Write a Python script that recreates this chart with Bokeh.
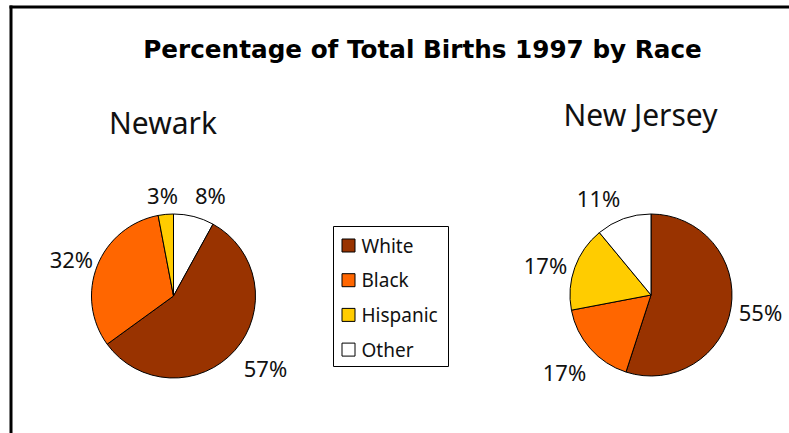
import math
from bokeh.plotting import figure
from bokeh.models import ColumnDataSource, BoxAnnotation, Range1d
from bokeh.core.properties import value
from bokeh.embed import file_html
from bokeh.resources import INLINE

# ---- data ----
categories = ["White", "Black", "Hispanic", "Other"]
newark_pct = [57, 32, 3, 8]
nj_pct = [55, 17, 17, 11]
title_text = "Percentage of Total Births 1997 by Race"
pie_titles = ["Newark", "New Jersey"]
# slice that each pie starts with at 12 o'clock (clockwise)
pie_first = ["Other", "White"]

# ---- styles / layout ----
colors = {"White": "#993300", "Black": "#FF6600", "Hispanic": "#FFCC00", "Other": "#FFFFFF"}
W, H = 789, 433
IMG_H = 433


def Y(yi):
    return IMG_H - yi


pies = [
    dict(cx=173, cy=295.5, r=82, title_xy=(162.5, 122),
         lab_dist=[117, 108.7, 102, 108], lab_nudge=[-3.2, -1.6, -0.8, 5.6]),
    dict(cx=650.5, cy=294.5, r=81, title_xy=(640, 114),
         lab_dist=[110.7, 115.5, 109.8, 109.9], lab_nudge=[-0.4, -0.1, -3.7, -8.7]),
]

p = figure(width=W, height=H, x_range=Range1d(0, W), y_range=Range1d(IMG_H - H, IMG_H),
           min_border=0, toolbar_location=None, output_backend="svg",
           x_axis_location=None, y_axis_location=None, outline_line_color=None)
p.xgrid.visible = False
p.ygrid.visible = False
p.background_fill_color = "white"
p.border_fill_color = "white"

# frame lines (top and left)
p.add_layout(BoxAnnotation(left=9, right=W, top=Y(5), bottom=Y(8), fill_color="black",
                           fill_alpha=1, line_alpha=0))
p.add_layout(BoxAnnotation(left=9, right=12, top=Y(5), bottom=0, fill_color="black",
                           fill_alpha=1, line_alpha=0))

# title
p.text(x=[422], y=[Y(49)], text=[title_text], text_font=value("DejaVu Sans"),
       text_font_style="bold", text_font_size="24.7px", text_align="center",
       text_baseline="middle", text_color="black")

LABEL_FONT = value("Noto Sans")

for pie, vals, first, ptitle in zip(pies, [newark_pct, nj_pct], pie_first, pie_titles):
    total = float(sum(vals))
    k0 = categories.index(first)
    order = [(k0 + i) % len(categories) for i in range(len(categories))]
    cum = 0.0
    starts, ends, cols, lx, ly, ltxt = [], [], [], [], [], []
    mids = {}
    for idx in order:
        frac = vals[idx] / total
        a0 = cum
        a1 = cum + frac
        cum = a1
        starts.append(math.pi / 2 - 2 * math.pi * a0)
        ends.append(math.pi / 2 - 2 * math.pi * a1)
        cols.append(colors[categories[idx]])
        mids[idx] = (a0 + a1) / 2 * 360.0
    src = ColumnDataSource(dict(x=[pie["cx"]] * len(order), y=[Y(pie["cy"])] * len(order),
                                start=starts, end=ends, color=cols))
    p.wedge(x="x", y="y", radius=pie["r"], start_angle="start", end_angle="end",
            direction="clock", fill_color="color", line_color="black", line_width=1, source=src)
    for idx in range(len(categories)):
        th = math.radians(mids[idx] + pie["lab_nudge"][idx])
        d = pie["lab_dist"][idx]
        lx.append(pie["cx"] + d * math.sin(th))
        ly.append(Y(pie["cy"]) + d * math.cos(th))
        ltxt.append(f"{vals[idx]}%")
    p.text(x=lx, y=ly, text=ltxt, text_font=LABEL_FONT, text_font_size="22px",
           text_align="center", text_baseline="middle", text_color="#111111")
    tx, ty = pie["title_xy"]
    p.text(x=[tx], y=[Y(ty)], text=[ptitle], text_font=LABEL_FONT, text_font_size="30px",
           text_align="center", text_baseline="middle", text_color="#111111")

# legend box
p.quad(left=[333], right=[448], top=[Y(226)], bottom=[Y(366)], fill_color="white",
       line_color="black", line_width=1)
row_y = [Y(245 + 34.7 * i) for i in range(len(categories))]
p.rect(x=[348] * len(categories), y=row_y, width=13, height=13,
       fill_color=[colors[c] for c in categories], line_color="black", line_width=1)
p.text(x=[361] * len(categories), y=row_y, text=categories, text_font=LABEL_FONT,
       text_font_size="19px", text_align="left", text_baseline="middle", text_color="#111111")

open("out.html", "w").write(file_html(p, INLINE))
